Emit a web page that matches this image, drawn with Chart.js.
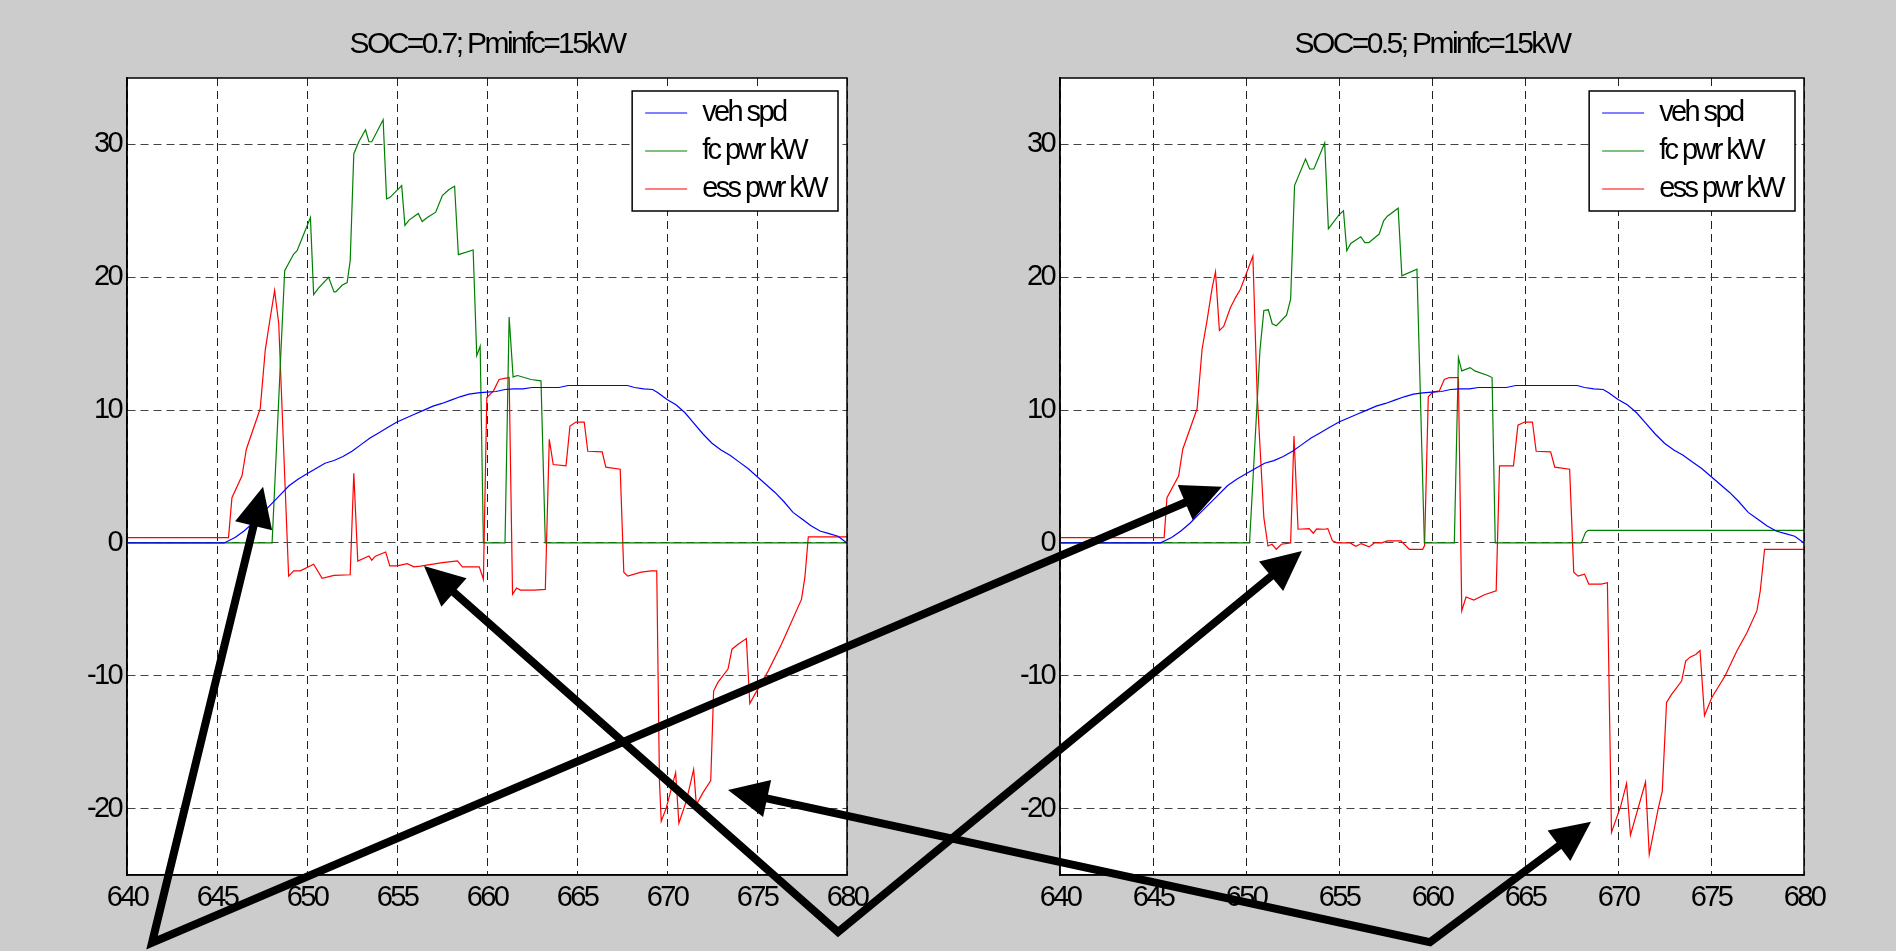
<!DOCTYPE html>
<html>
<head>
<meta charset="utf-8">
<script src="https://cdn.jsdelivr.net/npm/chart.js@4"></script>
<style>
    html, body { margin: 0; padding: 0; background: #cccccc; }
    #page { position: relative; width: 1896px; height: 951px; overflow: hidden; }
    canvas { position: absolute; top: 0; }
    #chartA { left: 0; }
    #chartB { left: 940px; }
    #arrows { left: 0; pointer-events: none; }
</style>
</head>
<body>
<div id="page">
    <canvas id="chartA" width="880" height="951"></canvas>
    <canvas id="chartB" width="956" height="951"></canvas>
    <canvas id="arrows" width="1896" height="951"></canvas>
</div>
<script>
// tick labels
const timeTicks = [640, 645, 650, 655, 660, 665, 670, 675, 680];
const valueTicks = [-20, -10, 0, 10, 20, 30];

const seriesNames = ["veh spd", "fc pwr kW", "ess pwr kW"];
const panelTitles = ["SOC=0.7; Pminfc=15kW", "SOC=0.5; Pminfc=15kW"];

// [time s, value]
const vehSpd = [
    [640, 0], [645.4, 0], [646, 0.4], [646.5, 0.9], [647, 1.5], [647.5, 2.2], [648, 2.9],
    [648.5, 3.6], [649, 4.3], [649.5, 4.8], [650, 5.2], [650.5, 5.6], [651, 6.0], [651.5, 6.2],
    [652, 6.5], [652.5, 6.9], [653, 7.4], [653.5, 7.9], [654, 8.3], [654.5, 8.7], [655, 9.1],
    [655.5, 9.4], [656, 9.7], [656.5, 10.0], [657, 10.3], [657.5, 10.5], [658, 10.75],
    [658.5, 11.0], [659, 11.2], [659.5, 11.3], [660, 11.35], [660.5, 11.4], [661, 11.55],
    [661.5, 11.6], [662, 11.6], [662.5, 11.7], [663, 11.7], [664, 11.7], [664.5, 11.85],
    [665, 11.85], [666, 11.85], [667, 11.85], [667.8, 11.85], [668.2, 11.7], [668.7, 11.6],
    [669.2, 11.55], [669.5, 11.3], [670, 10.8], [670.5, 10.4], [671, 9.8], [671.5, 9.0],
    [672, 8.2], [672.5, 7.5], [673, 7.0], [673.5, 6.6], [674, 6.1], [674.5, 5.6], [675, 5.0],
    [675.5, 4.4], [676, 3.8], [676.5, 3.1], [677, 2.3], [677.5, 1.8], [678, 1.3], [678.5, 0.9],
    [679, 0.7], [679.5, 0.5], [680, 0]
];

const fcPwr07 = [
    [640, 0], [648.06, 0], [648.76, 20.5], [649.26, 21.75], [649.45, 22.0], [650.19, 24.5],
    [650.37, 18.7], [650.65, 19.2], [651.2, 20.0], [651.5, 18.9], [651.6, 18.9], [651.95, 19.4],
    [652.23, 19.6], [652.4, 21.25], [652.6, 29.3], [652.88, 30.2], [653.25, 31.1], [653.44, 30.2],
    [653.6, 30.2], [654.23, 31.85], [654.42, 25.9], [654.6, 26.0], [655.26, 26.9], [655.44, 23.9],
    [655.67, 24.3], [656.18, 24.8], [656.4, 24.2], [656.68, 24.5], [657.15, 24.9], [657.52, 26.15],
    [657.89, 26.6], [658.2, 26.85], [658.41, 21.7], [659.23, 22.05], [659.43, 14.1], [659.62, 14.8],
    [659.8, 0], [661.0, 0], [661.23, 17.0], [661.45, 12.5], [661.7, 12.6], [662.44, 12.3],
    [663.0, 12.2], [663.24, 0], [680, 0]
];

const essPwr07 = [
    [640, 0.4], [645.64, 0.4], [645.83, 3.4], [646.39, 5.05], [646.63, 7.05], [647.4, 10.1],
    [647.68, 14.5], [647.87, 16.2], [648.2, 19.0], [648.43, 16.5], [648.98, -2.5], [649.26, -2.1],
    [649.63, -2.1], [650.37, -1.6], [650.84, -2.66], [651.5, -2.45], [652.4, -2.4], [652.6, 5.25],
    [652.82, -1.36], [653.44, -0.98], [653.6, -1.3], [653.8, -1.0], [654.37, -0.68], [654.6, -1.73],
    [655.0, -1.73], [655.57, -1.56], [655.94, -1.8], [656.3, -1.75], [657.0, -1.6], [657.52, -1.48],
    [658.36, -1.36], [658.63, -1.8], [659.57, -1.8], [659.8, -2.74], [659.99, 10.95], [660.36, 11.45],
    [660.67, 12.3], [661.23, 12.45], [661.42, -3.87], [661.64, -3.4], [661.86, -3.55], [662.62, -3.56],
    [663.24, -3.5], [663.46, 7.8], [663.68, 5.9], [664.39, 5.8], [664.61, 8.8], [664.94, 9.1],
    [665.4, 9.1], [665.6, 6.9], [666.4, 6.86], [666.6, 5.7], [667.4, 5.55], [667.6, -2.2],
    [667.82, -2.5], [668.56, -2.2], [669.12, -2.1], [669.43, -2.1], [669.58, -17.9], [669.68, -20.95],
    [669.96, -19.95], [670.48, -17.3], [670.66, -21.1], [671.07, -19.45], [671.48, -17.05],
    [671.63, -19.7], [672.0, -18.8], [672.43, -17.9], [672.59, -11.15], [672.83, -10.5],
    [673.39, -9.5], [673.61, -8.0], [673.95, -7.63], [674.41, -7.2], [674.6, -12.1], [674.88, -11.4],
    [675.62, -9.65], [676.36, -7.63], [677.47, -4.25], [677.66, -2.6], [677.85, 0.45], [680, 0.45]
];

const fcPwr05 = [
    [640, 0], [650.19, 0], [650.75, 14.5], [650.96, 17.5], [651.2, 17.55], [651.41, 16.5],
    [651.63, 16.35], [652.18, 17.15], [652.4, 18.35], [652.61, 26.9], [653.2, 28.9], [653.42, 28.15],
    [653.65, 28.15], [654.23, 30.1], [654.43, 23.65], [655.0, 24.7], [655.24, 25.0], [655.42, 22.0],
    [655.63, 22.55], [656.17, 23.05], [656.39, 22.6], [656.6, 22.6], [657.16, 23.25], [657.4, 24.25],
    [657.6, 24.6], [658.18, 25.2], [658.38, 20.1], [659.19, 20.6], [659.59, 0], [661.2, 0],
    [661.42, 13.95], [661.6, 12.95], [662.05, 13.2], [662.3, 12.95], [663.0, 12.6], [663.23, 12.45],
    [663.4, 0], [668.03, 0], [668.25, 0.78], [668.39, 0.95], [680, 0.95]
];

const essPwr05 = [
    [640, 0.4], [645.6, 0.4], [645.75, 3.4], [646.38, 5.05], [646.6, 7.05], [647.37, 10.1],
    [647.64, 14.6], [647.9, 16.7], [648.18, 19.2], [648.36, 20.4], [648.57, 16.0], [648.8, 16.3],
    [649.16, 17.7], [649.43, 18.45], [649.7, 19.1], [650.37, 21.6], [650.6, 11.2], [650.96, 1.9],
    [651.18, -0.23], [651.4, -0.1], [651.63, -0.48], [651.9, -0.1], [652.4, 0], [652.58, 8.05],
    [652.8, 1.03], [653.4, 1.08], [653.62, 0.73], [653.8, 1.05], [654.2, 1.03], [654.4, 1.08],
    [654.65, 0.15], [654.9, 0], [655.6, 0], [655.9, -0.25], [656.2, -0.05], [656.62, -0.3],
    [656.9, 0], [657.3, 0], [657.6, 0.15], [658.33, 0.15], [658.78, -0.48], [659.5, -0.48],
    [659.6, -0.2], [659.8, 11.0], [660.04, 11.35], [660.4, 11.45], [660.66, 12.3], [660.93, 12.45],
    [661.42, 12.45], [661.6, -5.1], [661.83, -4.07], [662.25, -4.3], [662.82, -3.9], [663.45, -3.6],
    [663.63, 5.8], [664.38, 5.8], [664.62, 8.87], [664.98, 9.1], [665.4, 9.1], [665.6, 6.9],
    [666.38, 6.86], [666.6, 5.7], [667.4, 5.55], [667.62, -2.2], [667.85, -2.5], [668.2, -2.35],
    [668.43, -3.1], [669.1, -3.1], [669.43, -3.0], [669.65, -21.8], [670.15, -19.8], [670.46, -18.1],
    [670.67, -22.0], [671.48, -18.0], [671.68, -23.45], [672.17, -19.95], [672.38, -18.7],
    [672.61, -12.0], [672.88, -11.4], [673.42, -10.4], [673.64, -8.9], [673.87, -8.6], [674.18, -8.4],
    [674.41, -8.1], [674.65, -13.0], [675.04, -11.65], [675.76, -10.0], [676.39, -8.14],
    [676.93, -6.76], [677.47, -5.1], [677.65, -3.6], [677.88, -0.48], [680, -0.48]
];

// annotation arrows, in each panel's data coordinates (panel 0 = left, 1 = right)
const arrowPairs = [
    { tail: { panel: 0, x: 641.39, y: -30.1 },
      tips: [{ panel: 0, x: 647.56, y: 4.22 }, { panel: 1, x: 648.71, y: 4.22 }] },
    { tail: { panel: 0, x: 679.5, y: -29.3 },
      tips: [{ panel: 0, x: 656.5, y: -1.73 }, { panel: 1, x: 653.01, y: -0.6 }] },
    { tail: { panel: 1, x: 659.89, y: -30.05 },
      tips: [{ panel: 0, x: 673.39, y: -18.6 }, { panel: 1, x: 668.55, y: -21.0 }] },
];

const FONT = '"Liberation Sans", Arial, sans-serif';
const TIGHT = "-2.6px";
const lineColors = ["#0000ff", "#008000", "#ff0000"];

const toXY = (rows) => rows.map(([t, v]) => ({ x: t, y: v }));

function drawLegend(chart) {
    const { ctx, chartArea: a } = chart;
    ctx.save();
    ctx.font = `29px ${FONT}`;
    ctx.letterSpacing = TIGHT;
    const sets = chart.data.datasets;
    const textW = Math.max(...sets.map((d) => ctx.measureText(d.label).width));
    const bw = 70 + textW + 12;
    const bh = 120;
    const x = a.right - 9 - bw;
    const y = a.top + 13;
    ctx.fillStyle = "#fff";
    ctx.fillRect(x, y, bw, bh);
    ctx.strokeStyle = "#000";
    ctx.lineWidth = 1.5;
    ctx.strokeRect(x, y, bw, bh);
    sets.forEach((d, i) => {
        const cy = y + 22 + i * 38;
        ctx.strokeStyle = d.borderColor;
        ctx.lineWidth = 1.2;
        ctx.beginPath();
        ctx.moveTo(x + 13, cy);
        ctx.lineTo(x + 55, cy);
        ctx.stroke();
        ctx.fillStyle = "#000";
        ctx.textBaseline = "middle";
        ctx.textAlign = "left";
        ctx.fillText(d.label, x + 70, cy);
    });
    ctx.restore();
}

const panelPlugin = {
    id: "panel",
    beforeDraw(chart) {
        const { ctx, chartArea: a } = chart;
        ctx.letterSpacing = TIGHT;
        ctx.save();
        ctx.fillStyle = "#fff";
        ctx.fillRect(a.left, a.top, a.right - a.left, a.bottom - a.top);
        ctx.restore();
    },
    afterDatasetsDraw(chart) {
        drawLegend(chart);
    },
    afterDraw(chart) {
        const { ctx, chartArea: a } = chart;
        ctx.save();
        ctx.strokeStyle = "#000";
        ctx.lineWidth = 1.5;
        ctx.strokeRect(a.left, a.top, a.right - a.left, a.bottom - a.top);
        ctx.restore();
    },
};

function makePanel(canvasId, title, fc, ess, axisWidth, padRight) {
    const tickFont = { family: FONT, size: 29 };
    return new Chart(document.getElementById(canvasId), {
        type: "line",
        data: {
            datasets: [
                { label: seriesNames[0], data: toXY(vehSpd), borderColor: lineColors[0] },
                { label: seriesNames[1], data: toXY(fc), borderColor: lineColors[1] },
                { label: seriesNames[2], data: toXY(ess), borderColor: lineColors[2] },
            ],
        },
        options: {
            responsive: false,
            animation: false,
            events: [],
            elements: {
                line: { borderWidth: 1.2, tension: 0, fill: false },
                point: { radius: 0, hoverRadius: 0 },
            },
            layout: { padding: { left: 0, right: padRight, top: 0, bottom: 0 } },
            plugins: {
                legend: { display: false },
                tooltip: { enabled: false },
                title: {
                    display: true,
                    fullSize: false,
                    text: title,
                    color: "#000",
                    font: { family: FONT, size: 30, weight: "normal" },
                    padding: { top: 27, bottom: 15 },
                },
            },
            scales: {
                x: {
                    type: "linear",
                    min: 640,
                    max: 680,
                    afterBuildTicks: (s) => { s.ticks = timeTicks.map((v) => ({ value: v })); },
                    afterFit: (s) => { s.height = 76; },
                    grid: { color: "#222", drawTicks: false },
                    border: { display: true, color: "#000", width: 1.5, dash: [8, 5] },
                    ticks: { color: "#000", padding: 6, font: tickFont, maxRotation: 0, autoSkip: false },
                },
                y: {
                    type: "linear",
                    min: -25,
                    max: 35,
                    afterBuildTicks: (s) => { s.ticks = valueTicks.map((v) => ({ value: v })); },
                    afterFit: (s) => { s.width = axisWidth; },
                    grid: { color: "#444", drawTicks: false },
                    border: { display: true, color: "#000", width: 1.5, dash: [8, 5] },
                    ticks: { color: "#000", padding: 6, font: tickFont },
                },
            },
        },
        plugins: [panelPlugin],
    });
}

const charts = [
    makePanel("chartA", panelTitles[0], fcPwr07, essPwr07, 127, 33),
    makePanel("chartB", panelTitles[1], fcPwr05, essPwr05, 120, 92),
];

// Arrows
const HEAD_LEN = 40;
const HEAD_HALF = 19;

function toPage(ref) {
    const chart = charts[ref.panel];
    return {
        x: chart.canvas.offsetLeft + chart.scales.x.getPixelForValue(ref.x),
        y: chart.canvas.offsetTop + chart.scales.y.getPixelForValue(ref.y),
    };
}

function drawArrows() {
    const ctx = document.getElementById("arrows").getContext("2d");
    ctx.clearRect(0, 0, 1896, 951);
    ctx.fillStyle = "#000";
    ctx.strokeStyle = "#000";
    ctx.lineWidth = 8;
    ctx.lineJoin = "miter";
    ctx.miterLimit = 10;
    arrowPairs.forEach((pair) => {
        const tail = toPage(pair.tail);
        const heads = pair.tips.map((tip) => {
            const p = toPage(tip);
            const dx = p.x - tail.x;
            const dy = p.y - tail.y;
            const len = Math.hypot(dx, dy);
            const ux = dx / len;
            const uy = dy / len;
            return { tip: p, ux, uy, bx: p.x - ux * HEAD_LEN, by: p.y - uy * HEAD_LEN };
        });
        ctx.beginPath();
        ctx.moveTo(heads[0].bx + heads[0].ux * 4, heads[0].by + heads[0].uy * 4);
        ctx.lineTo(tail.x, tail.y);
        ctx.lineTo(heads[1].bx + heads[1].ux * 4, heads[1].by + heads[1].uy * 4);
        ctx.stroke();
        heads.forEach((h) => {
            ctx.beginPath();
            ctx.moveTo(h.tip.x, h.tip.y);
            ctx.lineTo(h.bx - h.uy * HEAD_HALF, h.by + h.ux * HEAD_HALF);
            ctx.lineTo(h.bx + h.uy * HEAD_HALF, h.by - h.ux * HEAD_HALF);
            ctx.closePath();
            ctx.fill();
        });
    });
}

drawArrows();
</script>
</body>
</html>
